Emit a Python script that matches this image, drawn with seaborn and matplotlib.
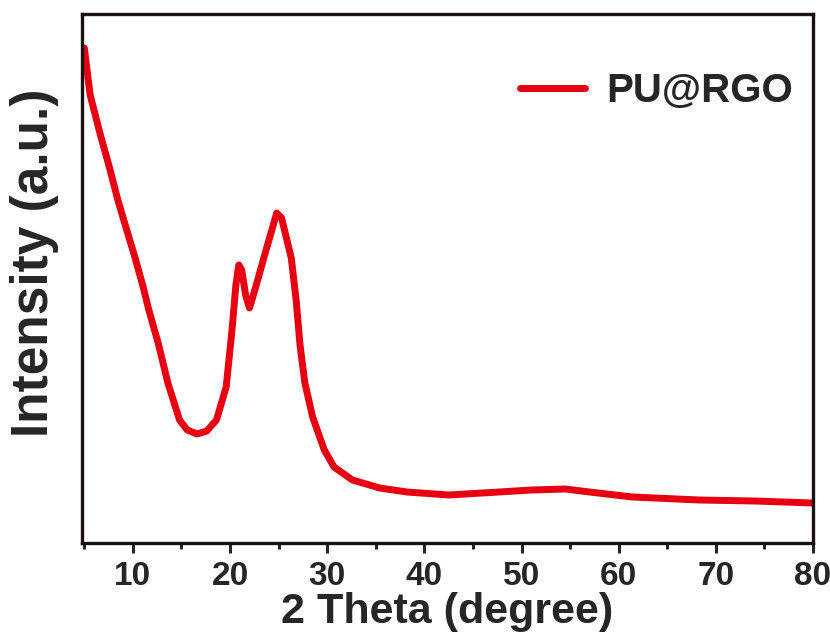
import matplotlib
matplotlib.use("Agg")
import matplotlib.pyplot as plt
import seaborn as sns
import pandas as pd
from matplotlib.ticker import MultipleLocator
from matplotlib.lines import Line2D

two_theta = [5.0, 5.6, 6.6, 7.6, 8.45, 9.3, 10.2, 11.0, 11.64, 12.6, 13.6, 14.8, 15.6, 16.6,
             17.6, 18.6, 19.6, 20.2, 20.6, 20.9, 21.2, 21.6, 22.0, 22.4, 22.9, 23.5, 24.3,
             24.8, 25.3, 25.8, 26.3, 26.8, 27.2, 27.7, 28.5, 29.7, 30.7, 32.6, 35.4, 38.2,
             42.5, 47.7, 51.0, 54.5, 57.0, 61.4, 68.3, 74.0, 80.0]
pixel_y = [48, 95, 133, 168, 200, 228, 257, 285, 310, 343, 383, 420, 430, 434,
           431, 420, 387, 330, 285, 265, 270, 295, 308, 295, 278, 257, 230,
           213, 218, 238, 258, 300, 345, 383, 417, 450, 467, 480, 488, 492,
           495, 492, 490, 489, 492, 497, 500, 501, 503]
intensity = [543 - v for v in pixel_y]
series_name = "PU@RGO"
x_ticks = [10, 20, 30, 40, 50, 60, 70, 80]

df = pd.DataFrame({"2theta": two_theta, "Intensity": intensity, "sample": series_name})

sns.set_style("ticks")
FAM = ["Liberation Sans", "DejaVu Sans"]
plt.rcParams["font.family"] = FAM

fig = plt.figure(figsize=(8.3, 6.44), dpi=100)
ax = fig.add_axes([82 / 830, 1 - 543 / 644, (813 - 82) / 830, (543 - 14) / 644])

red = "#E60012"
sns.lineplot(data=df, x="2theta", y="Intensity", hue="sample", palette=[red],
             linewidth=5, ax=ax, legend=False)

ax.set_xlim(4.76, 80)
ax.set_ylim(0, 529)
ax.set_xticks(x_ticks)
ax.xaxis.set_minor_locator(MultipleLocator(5))
ax.set_yticks([])
ax.tick_params(axis="x", which="major", direction="out", length=7, width=2.2,
               labelsize=24, pad=6, top=False)
ax.tick_params(axis="x", which="minor", direction="out", length=4, width=2.2, top=False)
for lab in ax.get_xticklabels():
    lab.set_fontweight("bold")
for s in ax.spines.values():
    s.set_linewidth(2.4)
    s.set_color("#1a1210")

ax.set_xlabel("2 Theta (degree)", fontsize=31, fontweight="bold", labelpad=0)
ax.set_ylabel("Intensity (a.u.)", fontsize=37, fontweight="bold")
ax.yaxis.set_label_coords(-0.031, 0.53)

h = [Line2D([0], [0], color=red, lw=5, solid_capstyle="round")]
ax.legend(h, [series_name], loc="upper right", bbox_to_anchor=(1.012, 0.943), frameon=False,
          prop={"family": FAM, "weight": "bold", "size": 29},
          handlelength=1.6, handletextpad=0.55, borderaxespad=0.3)

fig.savefig("out.png", dpi=100)
